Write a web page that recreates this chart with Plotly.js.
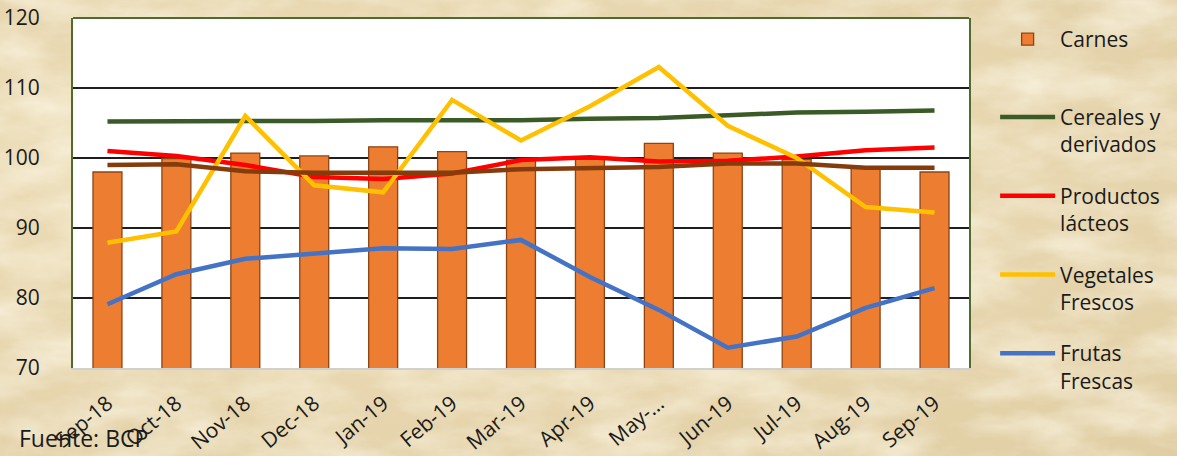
<!DOCTYPE html>
<html>
<head>
<meta charset="utf-8">
<script src="https://cdn.plot.ly/plotly-3.0.1.min.js"></script>
<style>
html,body{margin:0;padding:0;}
body{
  width:1177px;height:456px;overflow:hidden;
  background-color:#E6D4A9;
  background-image:
    url("data:image/svg+xml;utf8,<svg xmlns='http://www.w3.org/2000/svg' width='1177' height='456'><filter id='n'><feTurbulence type='fractalNoise' baseFrequency='0.012 0.03' numOctaves='5' seed='7'/><feColorMatrix values='0 0 0 0 1  0 0 0 0 0.97  0 0 0 0 0.86  0 0 0 1.1 -0.35'/></filter><rect width='100%' height='100%' filter='url(%23n)'/></svg>"),
    radial-gradient(ellipse at 30% 40%, rgba(245,232,200,0.6), rgba(210,190,150,0.3));
}
#chart{width:1177px;height:456px;}
</style>
</head>
<body>
<div id="chart"></div>
<script>
const categories = ["Sep-18","Oct-18","Nov-18","Dec-18","Jan-19","Feb-19","Mar-19","Apr-19","May-…","Jun-19","Jul-19","Aug-19","Sep-19"];
const carnes     = [98.0, 99.9, 100.7, 100.3, 101.6, 100.9, 99.7, 99.8, 102.1, 100.7, 99.8, 98.6, 98.0];
const cereales   = [105.2, 105.2, 105.3, 105.3, 105.4, 105.4, 105.4, 105.6, 105.7, 106.1, 106.5, 106.6, 106.8];
const lacteos    = [101.0, 100.3, 99.0, 97.3, 97.0, 97.8, 99.7, 100.1, 99.5, 99.6, 100.2, 101.1, 101.5];
const vegetales  = [87.9, 89.5, 106.0, 96.1, 95.1, 108.3, 102.5, 107.4, 113.0, 104.6, 100.0, 93.0, 92.2];
const frutas     = [79.1, 83.4, 85.6, 86.3, 87.1, 87.0, 88.3, 83.0, 78.3, 72.9, 74.5, 78.6, 81.4];
const otros      = [99.0, 99.1, 98.1, 97.9, 97.9, 97.9, 98.4, 98.5, 98.7, 99.2, 99.2, 98.6, 98.6];

const FONT = "'Open Sans', sans-serif";

function line(name, y, color, legend) {
  return {type:'scatter', mode:'lines', name:name, x:categories, y:y,
          line:{color:color, width:4.5}, legend:legend, showlegend: !!legend,
          hoverinfo:'skip'};
}

const traces = [
  {type:'bar', name:'Carnes', x:categories, y:carnes,
   marker:{color:'#ED7D31', line:{color:'#8E4413', width:1.3}}, legend:'legend'},
  line('Cereales y<br>derivados', cereales, '#3A5A27', 'legend2'),
  line('Productos<br>lácteos', lacteos, '#FF0000', 'legend3'),
  line('Vegetales<br>Frescos', vegetales, '#FFC000', 'legend4'),
  line('Frutas<br>Frescas', frutas, '#4472C4', 'legend5'),
  line('Otros', otros, '#843C0C', null)
];

function leg(y){
  return {x:1.028, xanchor:'left', y:y, yanchor:'top', bgcolor:'rgba(0,0,0,0)',
          font:{family:FONT, size:21, color:'#1A1A1A'}, itemwidth:55, valign:'top'};
}

const layout = {
  width:1177, height:456,
  paper_bgcolor:'rgba(0,0,0,0)', plot_bgcolor:'#FFFFFF',
  margin:{l:73, r:207, t:18, b:88},
  bargap:0.58,
  xaxis:{type:'category', tickangle:-40, showgrid:false, zeroline:false,
         showline:true, linecolor:'#D0D0D0', linewidth:2, ticks:'',
         ticklabelstandoff:13,
         tickfont:{family:FONT, size:21, color:'#1A1A1A'}, fixedrange:true},
  yaxis:{range:[70,120], dtick:10, showgrid:true, gridcolor:'#1E1E1E', gridwidth:1.2,
         zeroline:false, showline:true, linecolor:'#4F6B2F', linewidth:2, mirror:true,
         ticks:'', ticklen:0, tickfont:{family:FONT, size:21, color:'#1A1A1A'},
         ticklabelstandoff:27, fixedrange:true},
  shapes:[{type:'line', xref:'paper', yref:'paper', x0:0, x1:1, y0:1, y1:1,
           line:{color:'#4F6B2F', width:2}}],
  showlegend:true,
  legend: leg(0.997),
  legend2: leg(0.775),
  legend3: leg(0.55),
  legend4: leg(0.325),
  legend5: leg(0.1),
  annotations:[{text:'Fuente: BCP', xref:'paper', yref:'paper', x:-0.061, y:-0.2486,
                xanchor:'left', yanchor:'bottom', showarrow:false, borderpad:0,
                font:{family:FONT, size:23, color:'#1A1A1A'}}]
};

Plotly.newPlot('chart', traces, layout, {displayModeBar:false, staticPlot:true});
</script>
</body>
</html>
